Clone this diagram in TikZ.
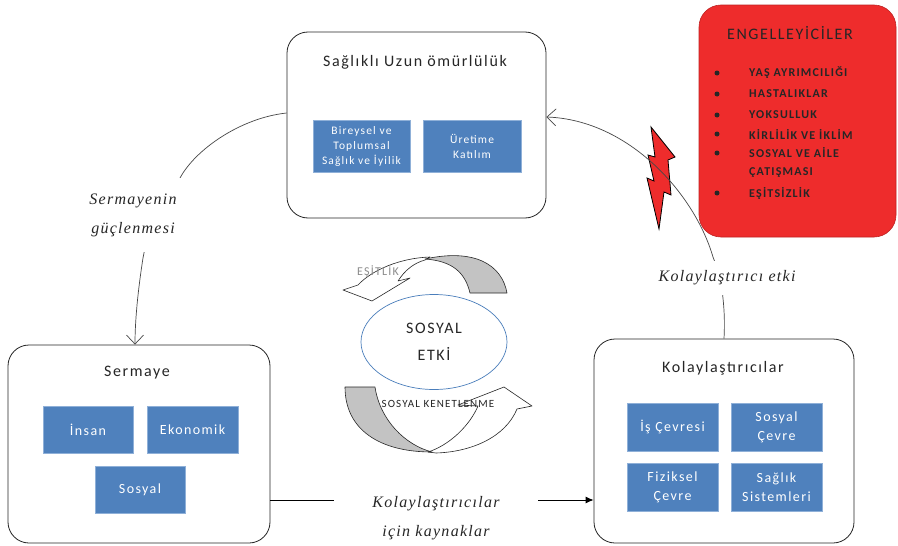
\documentclass[tikz,border=0pt]{standalone}
\usepackage{fontspec}
\setmainfont[LetterSpace=8]{Liberation Serif}
\setsansfont[LetterSpace=10]{Carlito}
\usetikzlibrary{arrows.meta,shapes.geometric}
\definecolor{boxblue}{HTML}{4F81BD}
\definecolor{boxedge}{HTML}{8FB0D8}
\definecolor{alarm}{HTML}{EE2C2C}
\definecolor{ink}{HTML}{262626}
\definecolor{shade}{HTML}{C3C3C3}
\definecolor{ringblue}{HTML}{4A7EBB}
\newcommand\myfs[2]{\fontsize{#1}{#2}\selectfont}
\begin{document}
\begin{tikzpicture}[x=1pt,y=-1pt,
  frame/.style={draw=ink, line width=0.8pt, rounded corners=21pt, fill=white, inner sep=0},
  title/.style={font=\sffamily\myfs{16}{18}, text=ink, inner sep=0},
  bluebox/.style={fill=boxblue, draw=boxedge, line width=0.6pt, text=white, align=center, inner sep=0, font=\sffamily\myfs{14}{19}},
  smallblue/.style={bluebox, font=\sffamily\myfs{11.5}{15}},
  lbl/.style={fill=white, font=\itshape\myfs{16}{29}, text=ink, align=center, inner sep=0},
  conn/.style={draw=ink!85, line width=0.7pt},
  barb/.style={-{Straight Barb[length=9pt,width=17pt]}},
  redtxt/.style={font=\sffamily\bfseries\myfs{12}{13}, text=ink, anchor=west, inner sep=0},
  dot/.style={circle, fill=ink, inner sep=0, minimum size=5pt},
  ribbon/.style={draw=ink, line width=0.6pt, line join=round}
]
\useasboundingbox (0,0) rectangle (898,546);
\fill[white] (0,0) rectangle (898,546);

% ---- top box
\node[frame, minimum width=259pt, minimum height=186pt] (sag) at (416.5,125) {};
\node[title] (sagt) at (415,62) {Sağlıklı Uzun ömürlülük};
\node[smallblue, minimum width=97pt, minimum height=52pt] (bir) at (361.5,146) {Bireysel ve\\Toplumsal\\Sağlık ve İyilik};
\node[smallblue, minimum width=98pt, minimum height=52pt] (ure) at (472,146) {Üretime\\Katılım};

% ---- Sermaye
\node[frame, minimum width=262pt, minimum height=198pt] (serm) at (139,444) {};
\node[title] (sermt) at (137,373) {Sermaye};
\node[bluebox, minimum width=90pt, minimum height=47pt] (insan) at (88,429.5) {İnsan};
\node[bluebox, minimum width=91pt, minimum height=47pt] (ekon) at (192.5,429.5) {Ekonomik};
\node[bluebox, minimum width=90pt, minimum height=47pt] (sosy) at (140,489.5) {Sosyal};

% ---- Kolaylastiricilar
\node[frame, minimum width=260pt, minimum height=204pt] (kol) at (724,441) {};
\node[title] (kolt) at (723,368) {Kolaylaştırıcılar};
\node[bluebox, minimum width=91pt, minimum height=48pt] (is) at (672.5,427) {İş Çevresi};
\node[bluebox, minimum width=91pt, minimum height=48pt] (sosc) at (776.5,427) {Sosyal\\Çevre};
\node[bluebox, minimum width=91pt, minimum height=48pt] (fiz) at (672.5,487) {Fiziksel\\Çevre};
\node[bluebox, minimum width=91pt, minimum height=48pt] (sist) at (776.5,487) {Sağlık\\Sistemleri};

% ---- Engelleyiciler
\node[draw=alarm!80!black, line width=0.6pt, fill=alarm, rounded corners=22pt, minimum width=197pt, minimum height=232pt, inner sep=0] (eng) at (797.5,121) {};
\node[font=\sffamily\myfs{16}{18}, text=ink, inner sep=0] (engt) at (790,33) {ENGELLEYİCİLER};
\node[redtxt] (r1) at (749,73) {YAŞ AYRIMCILIĞI};
\node[redtxt] (r2) at (749,94) {HASTALIKLAR};
\node[redtxt] (r3) at (749,115) {YOKSULLUK};
\node[redtxt] (r4) at (749,134) {KİRLİLİK VE İKLİM};
\node[redtxt] (r5) at (749,153) {SOSYAL VE AİLE};
\node[redtxt] (r5b) at (749,173) {ÇATIŞMASI};
\node[redtxt] (r6) at (749,193) {EŞİTSİZLİK};
\node[dot] (d1) at (717,73) {};
\node[dot] (d2) at (717,94) {};
\node[dot] (d3) at (717,115) {};
\node[dot] (d4) at (717,134) {};
\node[dot] (d5) at (717,153) {};
\node[dot] (d6) at (717,193) {};

% ---- lightning bolt
\filldraw[fill=alarm, draw=black, line width=0.8pt, line join=miter]
  (651,127) -- (675,157) -- (668,160) -- (671,195) -- (664,192) -- (659,229)
  -- (647,178) -- (654,181) -- (648,155) -- (655,157) -- cycle;

% ---- central ribbons
\filldraw[ribbon, fill=white] (430,257) .. controls (400,258) and (372,270) .. (358,285)
  -- (343,290) -- (372,301) -- (410,278) -- (398,281)
  .. controls (405,270) and (414,263) .. (425,260) -- cycle;
\filldraw[ribbon, fill=shade] (470,293) .. controls (465,272) and (452,261) .. (425,259)
  .. controls (475,248) and (502,265) .. (507,293) -- cycle;
\filldraw[ribbon, fill=white] (428,452) .. controls (450,445) and (470,425) .. (478,406)
  -- (458,405) -- (504,387) -- (532,406) -- (517,409)
  .. controls (505,438) and (470,452) .. (436,453) -- cycle;
\filldraw[ribbon, fill=shade] (345,387) -- (375,387) .. controls (380,420) and (405,445) .. (432,452)
  .. controls (380,452) and (345,430) .. (345,387) -- cycle;
\node[draw=ringblue, line width=0.7pt, ellipse, fill=white, minimum width=146pt, minimum height=95pt, inner sep=0] (etki) at (434,342) {};
\node[font=\sffamily\myfs{16}{27}, text=ink, align=center, inner sep=0] (etkit) at (434,342) {SOSYAL\\ETKİ};
\node[font=\sffamily\myfs{12}{12}, text=black!45, inner sep=0] (esit) at (378,272) {EŞİTLİK};
\node[font=\sffamily\myfs{11}{11}, text=ink, inner sep=0] (kenet) at (438,404) {SOSYAL KENETLENME};

% ---- connectors
\draw[conn, barb] (sag.west |- 0,113) .. controls (240,118) and (195,150) .. (180,178)
  .. controls (160,210) and (148,230) .. (143,258)
  .. controls (138,290) and (135,320) .. (serm.north -| 135,0);
\draw[conn, barb] (kol.north) .. controls (725,320) and (724,305) .. (722,290)
  .. controls (720,275) and (716,265) .. (713,257)
  .. controls (695,195) and (630,120) .. (sag.east |- 0,117);
\draw[draw=black, line width=0.9pt, -{Latex[length=8pt,width=7pt]}] (serm.east |- 0,500) -- (kol.west |- 0,500);

% ---- connector labels
\node[lbl, minimum width=106pt, minimum height=74pt] (l1) at (133,215) {Sermayenin\\güçlenmesi};
\node[lbl, minimum width=160pt, minimum height=34pt] (l2) at (727,278) {Kolaylaştırıcı etki};
\node[lbl, minimum width=204pt, minimum height=60pt] (l3) at (436,518) {Kolaylaştırıcılar\\için kaynaklar};
\end{tikzpicture}
\end{document}
